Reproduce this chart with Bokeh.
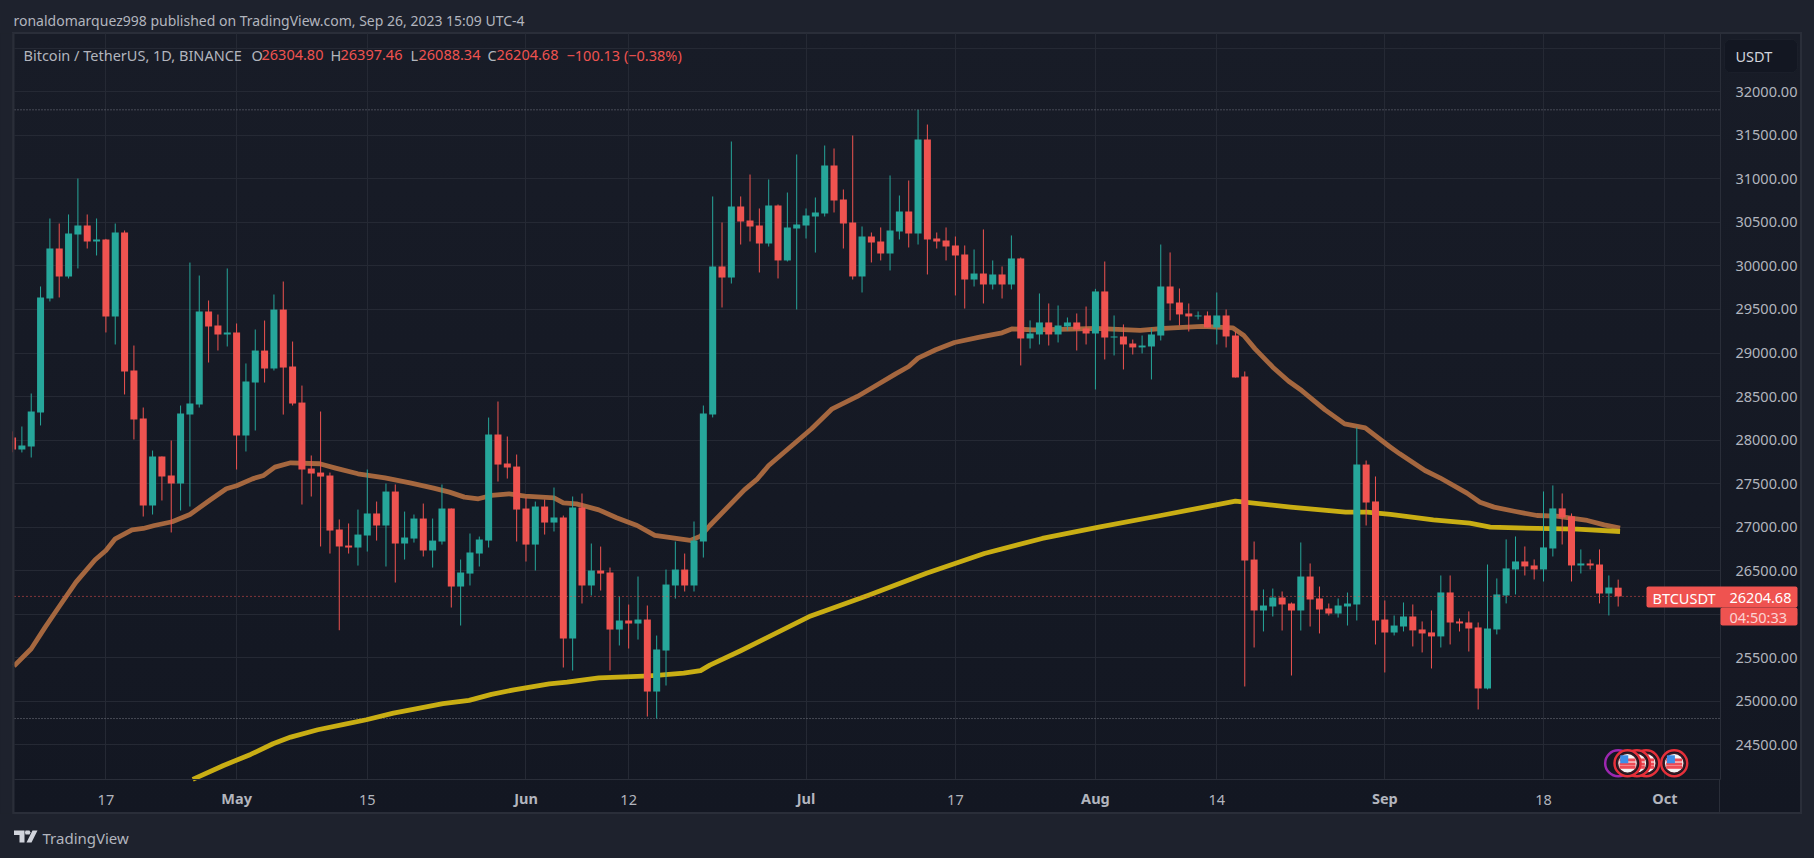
from bokeh.plotting import figure
from bokeh.models import Label, BoxAnnotation, PolyAnnotation, FixedTicker, Range1d, ColumnDataSource
from bokeh.embed import file_html
from bokeh.resources import INLINE

# ---------------------------- data ----------------------------
first_day = -10   # candle positions are days relative to 17 April 2023
open_ = [28030,27892,27926,28317,29626,30200,29879,30361,30464,30281,
 30304,29419,30384,28799,28248,27249,27812,27593,27501,28294,
 28409,29477,29316,29213,29236,28053,28661,29028,28822,29499,
 28845,28431,27673,27627,27593,26973,26789,26766,26904,27157,
 27019,27409,26812,26869,27099,26732,26835,27214,26318,26467,
 26697,26846,28064,27731,27696,27214,26800,27237,27053,27111,
 25721,27225,26330,26502,26479,25824,25928,25893,25939,25112,
 25583,26330,26513,26330,26835,28294,29994,29867,30683,30522,
 30464,30258,30694,30063,30430,30464,30568,30602,31154,30763,
 30499,29879,30338,30281,30143,30396,30625,30373,31452,30315,
 30292,30235,30132,29844,29913,29787,29902,29787,30086,29167,
 29213,29351,29213,29305,29351,29282,29224,29707,29178,29190,
 29109,29064,29075,29201,29764,29580,29454,29420,29431,29293,
 29431,29201,28730,26628,26043,26089,26192,26123,26043,26433,
 26181,26066,26008,26089,26112,27719,27295,25939,25790,25859,
 25974,25825,25791,25745,26250,25917,25905,25848,25147,25825,
 26215,26514,26606,26560,26514,26755,27215,27123,26560,26583,
 26571,26238,26304.80]
high = [28100,28156,28535,29764,30545,30487,30591,31004,30591,30545,
 30311,30487,30407,29086,28374,27880,27812,27995,28397,30039,
 29890,29603,29442,29971,29339,28880,29270,29373,29672,29821,
 29132,28626,27823,28328,27627,27088,27042,27202,27662,27294,
 27501,27490,27179,27145,27271,27099,27490,27214,26628,26927,
 26892,28259,28443,28041,27834,27340,27294,27317,27455,27133,
 27352,27386,26812,26777,26536,26203,26111,26433,26100,25755,
 26513,26835,26697,27065,28397,30798,30499,31429,30798,31050,
 30660,30993,30706,30843,31280,30660,30786,31383,31349,30878,
 31498,30453,30384,30442,31039,30809,30981,31793,31624,30384,
 30442,30338,30235,30189,30419,30063,29994,30350,30097,29374,
 29684,29569,29546,29408,29454,29534,29737,30051,29431,29328,
 29155,29201,29282,30246,30155,29741,29569,29477,29477,29695,
 29500,29247,28788,26835,26284,26295,26261,26135,26824,26583,
 26318,26123,26181,26249,28144,27765,27582,26158,25985,26135,
 26112,25917,26043,26445,26445,25951,26032,25905,26571,26411,
 26859,26893,26778,26629,27410,27479,27387,27157,26744,26629,
 26744,26445,26397.46]
low = [27860,27858,27800,28168,29592,29638,29856,29971,30200,30120,
 29236,29098,28524,28007,27122,27145,27306,26939,27191,27237,
 28374,28891,29029,29075,27662,27869,28110,28661,28799,28293,
 28397,27260,27352,26778,26697,25816,26697,26559,26720,26846,
 26548,26364,26628,26823,26663,26536,26800,26077,25870,26330,
 26548,26766,27524,27558,26835,26605,26502,26915,26950,25388,
 25353,26123,26215,26272,25353,25641,25606,25709,24825,24802,
 25181,26180,26261,26261,26651,28260,29523,29798,30246,30281,
 29925,30223,29856,30051,29500,30315,30154,30568,30614,30200,
 29844,29695,30040,30063,29948,30304,30212,30246,29902,30200,
 30063,29661,29511,29764,29569,29730,29626,29730,28857,29052,
 29098,29086,29121,29259,29029,29098,28581,28926,28972,28811,
 28983,28995,28696,29144,29374,29316,29247,29385,29293,29098,
 29064,28719,25170,25618,25802,25974,25813,25296,25813,25859,
 25779,25985,25962,25870,25928,27019,25652,25331,25756,25802,
 25630,25561,25377,25618,25653,25802,25572,24906,25136,25768,
 26124,26227,26445,26399,26376,26663,26801,26376,26468,26514,
 26124,25986,26088.34]
close = [27892,27938,28328,29638,30200,29879,30373,30464,30281,30304,
 29419,30384,28788,28236,27249,27812,27582,27501,28305,28420,
 29477,29304,29213,29236,28053,28673,29028,28822,29499,28833,
 28420,27662,27616,27581,26961,26778,26766,26915,27157,27019,
 27409,26812,26881,27099,26732,26846,27214,26318,26479,26709,
 26858,28064,27719,27685,27202,26800,27237,27053,27111,25721,
 27225,26330,26502,26467,25824,25928,25893,25939,25112,25595,
 26341,26513,26330,26846,28305,29994,29867,30683,30510,30453,
 30258,30694,30063,30442,30476,30579,30614,31154,30752,30487,
 29879,30338,30269,30143,30407,30625,30373,31452,30304,30281,
 30223,30120,29844,29913,29787,29902,29787,30086,29167,29224,
 29351,29213,29316,29351,29270,29224,29707,29178,29190,29098,
 29064,29086,29213,29764,29569,29443,29420,29431,29293,29431,
 29190,28719,26617,26043,26100,26192,26112,26043,26433,26169,
 26054,26008,26100,26123,27719,27283,25928,25790,25870,25974,
 25814,25779,25745,26250,25905,25894,25836,25147,25836,26227,
 26526,26606,26549,26514,26767,27215,27111,26560,26583,26560,
 26238,26307,26204.68]

ma50_day = [-9.85,-8,-6.5,-5,-3.2,-1.15,0,1,2.8,4,5.2,7.1,9,11.2,12.9,14,15.7,16.9,18.1,19.8,
 22.9,24.6,27,29.9,32.7,35.1,36.8,38.4,39.9,41.3,43.2,44.9,48,49,50.4,52.8,54.7,56.9,58.8,60.9,
 62.6,63.7,64.7,68.4,69.8,71,73.5,75.6,77.8,80.5,82.5,84.6,86,87,88.9,90.9,93.6,96,97.1,99.3,
 103.4,106,110.8,113.3,117.4,120.7,121.9,123.1,125,126.7,128.1,130.6,132.7,134.9,137.5,138.6,
 141.3,142.9,145.8,147.2,148.7,151,153.3,155.4,158.7,160.5,162.2]
ma50_val = [25404,25603,25852,26089,26369,26625,26732,26866,26970,26985,27019,27062,27146,27314,27441,27475,27555,27594,27689,27739,
 27728,27678,27613,27567,27506,27448,27402,27345,27326,27364,27383,27356,27337,27280,27268,27199,27108,27019,26905,26874,
 26847,26897,27019,27429,27555,27708,27938,28130,28359,28501,28627,28761,28845,28941,29037,29121,29182,29232,29278,29266,
 29274,29282,29259,29282,29305,29289,29201,29048,28837,28676,28569,28347,28186,28140,27926,27842,
 27651,27567,27391,27287,27230,27180,27134,27127,27077,27027,26989]
ma200_day = [9.3,12.6,15.5,17.9,19.8,22.7,25.5,27.9,30.8,33.2,36.1,38.9,41.3,43.7,47.5,49.4,52.8,57.6,59,61.9,63.7,
 64.7,68,75.5,81.7,87.9,94.1,100.3,106.5,113,121,126.9,132.8,135.1,137.6,142.2,146.1,148.3,153.3,157.6,162.2]
ma200_val = [24103,24263,24390,24512,24589,24673,24734,24788,24864,24914,24972,25010,25079,25132,25201,25220,25270,25289,25297,25323,25353,
 25415,25581,25980,26219,26471,26697,26870,27003,27134,27298,27230,27172,27172,27146,27084,27046,27000,26985,26977,26950]

tick_days = [0,14,28,45,56,75,91,106,119,137,154,167]
tick_labels = ["17","May","15","Jun","12","Jul","17","Aug","14","Sep","18","Oct"]
price_ticks = [24500,25000,25500,26000,26500,27000,27500,28000,28500,29000,29500,30000,30500,31000,31500,32000,32500]
event_days = [162,165,164,163,168]
event_price = 24289

GREEN, RED = "#26a69a", "#ef5350"
BG_OUT, BG_TOP, BG_BOT, EDGE = "#1e222d", "#181c27", "#131722", "#2a2e39"
GRID, TXT = "#252934", "#b2b5be"
FONT = "Noto Sans"
W, H = 1814, 858
DAY_MIN, DAY_MAX = -9.79, 172.96       # plot area x 14..1720
PRICE_MIN, PRICE_MAX = 24101.6, 32669.6  # plot area y 779..33

# ---------------------------- figure ----------------------------
bg = ", ".join([
    f"linear-gradient({EDGE},{EDGE}) 12px 32px/1790px 2px no-repeat",
    f"linear-gradient({EDGE},{EDGE}) 12px 812px/1790px 2px no-repeat",
    f"linear-gradient({EDGE},{EDGE}) 12px 32px/2px 782px no-repeat",
    f"linear-gradient({EDGE},{EDGE}) 1800px 32px/2px 782px no-repeat",
    f"linear-gradient({EDGE},{EDGE}) 1719px 779px/1px 34px no-repeat",
    f"linear-gradient(to right,{BG_OUT} 13px,transparent 13px,transparent 1801px,{BG_OUT} 1801px)",
    f"linear-gradient(to bottom,{BG_OUT} 33px,{BG_TOP} 33px,{BG_BOT} 813px,{BG_OUT} 813px)",
])
p = figure(width=W, height=H, output_backend="svg", toolbar_location=None,
           x_range=Range1d(-11.291, 183.03), y_range=Range1d(23194.5, 33048.6),
           y_axis_location="right", min_border=0,
           background_fill_color=None, border_fill_color=None, outline_line_color=None)
p.styles = {"background": bg}

for ax, ticks in ((p.xaxis[0], tick_days), (p.yaxis[0], price_ticks)):
    ax.ticker = FixedTicker(ticks=ticks)
    ax.axis_line_color = EDGE
    ax.major_tick_line_color = None
    ax.minor_tick_line_color = None
    ax.major_label_text_color = TXT
    ax.major_label_text_font = FONT
    ax.major_label_text_font_size = "14.5px"
p.xaxis[0].fixed_location = PRICE_MIN
p.xaxis[0].bounds = (DAY_MIN, DAY_MAX)
p.yaxis[0].fixed_location = DAY_MAX
p.yaxis[0].bounds = (PRICE_MIN, PRICE_MAX)
p.yaxis[0].major_label_overrides = {t: (f"{t:.2f}" if t < 32500 else "") for t in price_ticks}
p.yaxis[0].major_label_standoff = 9
p.xaxis[0].major_label_standoff = 9
p.xaxis[0].major_label_overrides = {d: ("" if l.isalpha() else l) for d, l in zip(tick_days, tick_labels)}

p.xgrid.ticker = FixedTicker(ticks=tick_days)
p.ygrid.ticker = FixedTicker(ticks=price_ticks)
p.xgrid.grid_line_color = GRID
p.ygrid.grid_line_color = GRID
p.xgrid.cross_bounds = (PRICE_MIN, PRICE_MAX)
p.ygrid.cross_bounds = (DAY_MIN, DAY_MAX)

# ---------------------------- marks ----------------------------
days = [first_day + i for i in range(len(open_))]
colors = [GREEN if c >= o else RED for o, c in zip(open_, close)]
src = ColumnDataSource(dict(day=days, o=open_, h=high, l=low, c=close, color=colors))

for level_price in (max(high), min(low)):
    p.segment([DAY_MIN], [level_price], [DAY_MAX], [level_price], line_color="#787b86",
              line_width=1, line_dash="1 2")

p.line(ma50_day, ma50_val, line_color="#a5673f", line_width=4.8, line_join="round")
p.line(ma200_day, ma200_val, line_color="#c9ae14", line_width=4.8, line_join="round")

p.segment("day", "h", "day", "l", source=src, line_color="color", line_width=1)
p.vbar("day", 0.75, "o", "c", source=src, fill_color="color", line_color=None)

p.segment([DAY_MIN], [close[-1]], [DAY_MAX], [close[-1]], line_color=RED, line_width=1, line_dash="1 3")

def flag(day, ring):
    p.scatter([day], [event_price], size=26, fill_color=BG_BOT, line_color=ring, line_width=2.5)
    if ring == "#e5303a":
        p.scatter([day], [event_price], size=20, fill_color="#f5f5f5", line_color="#3a1a24", line_width=1.5)
        for dy, h in ((37, 3), (-10, 3), (-47, 3)):
            p.rect([day], [event_price + dy], width=16, height=h, width_units="screen", height_units="screen",
                   fill_color="#ee4b55", line_color=None)
        p.rect([day - 0.35], [event_price + 45], width=8, height=8, width_units="screen", height_units="screen",
               fill_color="#3d8ee8", line_color=None)

for k, d in enumerate(event_days):
    flag(d, "#9c27b0" if k == 0 else "#e5303a")

# ---------------------------- texts and chrome ----------------------------
def sy(y): return H - y

def box(l, r, t, b, fill, line=None, radius=0, level="overlay"):
    p.add_layout(BoxAnnotation(left=l, right=r, top=sy(t), bottom=sy(b),
                               left_units="screen", right_units="screen", top_units="screen", bottom_units="screen",
                               fill_color=fill, fill_alpha=1, line_color=line, line_width=1, border_radius=radius,
                               level=level))

def label(text, x, y, color=TXT, size="14.5px", align="left", bold=False, alpha=1.0):
    p.add_layout(Label(x=x, y=sy(y), x_units="screen", y_units="screen", text=text, text_color=color,
                       text_font=FONT, text_font_size=size, text_align=align, text_baseline="middle",
                       text_alpha=alpha, text_font_style="bold" if bold else "normal", level="overlay"))

def poly(points, fill="#d1d4dc"):
    p.add_layout(PolyAnnotation(xs=[a for a, _ in points], ys=[sy(b) for _, b in points],
                                xs_units="screen", ys_units="screen", fill_color=fill, fill_alpha=1,
                                line_color=None, level="overlay"))

# left edge hides the part of the first candle outside the plot area
box(0, 12, 33, 813, BG_OUT, level="glyph")
box(12, 14, 33, 813, EDGE, level="glyph")

label("ronaldomarquez998 published on TradingView.com, Sep 26, 2023 15:09 UTC-4", 13, 20, size="14px")
label("Bitcoin / TetherUS, 1D, BINANCE", 23, 54)
for t, x, c in (("O", 251, TXT), ("26304.80", 261, RED), ("H", 330, TXT), ("26397.46", 340, RED),
                ("L", 410, TXT), ("26088.34", 418, RED), ("C", 487, TXT), ("26204.68", 496, RED),
                ("\u2212100.13 (\u22120.38%)", 566, RED)):
    label(t, x, 54, color=c)

for d, l in zip(tick_days, tick_labels):
    if l.isalpha():
        p.add_layout(Label(x=d, y=sy(797), x_units="data", y_units="screen", text=l, text_color=TXT,
                           text_font=FONT, text_font_size="14.5px", text_font_style="bold",
                           text_align="center", text_baseline="middle"))

box(1724, 1797, 39, 72, BG_BOT, line=EDGE, radius=6)
label("USDT", 1735, 55, color="#d1d4dc")

box(1646, 1797, 586, 607, RED, radius=2)
box(1720, 1797, 607, 625, RED, radius=2)
label("BTCUSDT", 1652, 597, color="#ffffff")
label("26204.68", 1729, 597, color="#ffffff")
label("04:50:33", 1729, 616, color="#ffffff", alpha=0.75)

label("TradingView", 42, 837, color="#b2b5be", size="15px")
poly([(13.5, 830), (24, 830), (24, 842), (19, 842), (19, 834.5), (13.5, 834.5)])
poly([(25, 830), (29, 830), (30, 832), (29, 834), (25, 834), (24.5, 832)])
poly([(32, 830), (37, 830), (31, 842), (26, 842)])

open("out.html", "w").write(file_html(p, INLINE))
